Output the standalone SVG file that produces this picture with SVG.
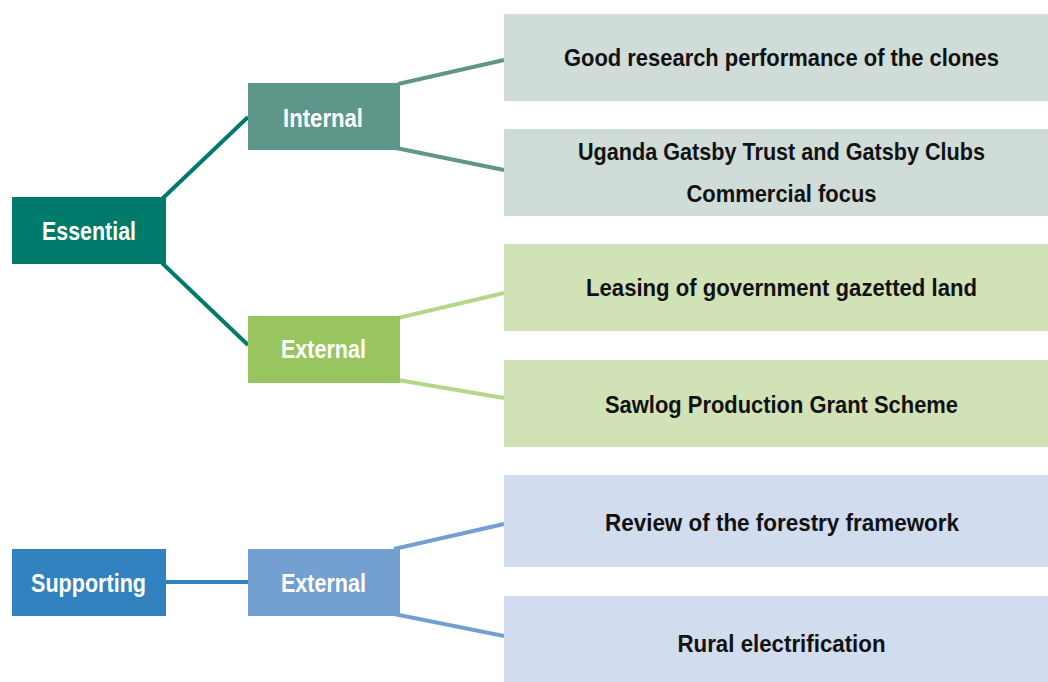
<svg xmlns="http://www.w3.org/2000/svg" width="1048" height="682" viewBox="0 0 1048 682">
<style>
text{font-family:"Liberation Sans",Arial,sans-serif;font-weight:bold;font-size:25px;text-anchor:middle}
.w{fill:#ffffff}
.k{fill:#111111;font-size:24px}
.c{fill:none;stroke-width:4}
</style>
<rect width="1048" height="682" fill="#ffffff"/>
<g id="connectors">
<line class="c" x1="162" y1="199" x2="248" y2="117" stroke="#007A6A"/>
<line class="c" x1="162" y1="263" x2="248" y2="345" stroke="#007A6A"/>
<line class="c" x1="398" y1="84" x2="504" y2="60" stroke="#5E9789"/>
<line class="c" x1="396" y1="148" x2="504" y2="170" stroke="#5E9789"/>
<line class="c" x1="398" y1="318" x2="504" y2="293" stroke="#B5D68D"/>
<line class="c" x1="398" y1="380" x2="504" y2="398" stroke="#B5D68D"/>
<line class="c" x1="166" y1="582" x2="248" y2="582" stroke="#3282C0"/>
<line class="c" x1="394" y1="549" x2="504" y2="524" stroke="#73A0D0"/>
<line class="c" x1="394" y1="614" x2="504" y2="636" stroke="#73A0D0"/>
</g>
<g id="essential">
<rect x="12" y="197" width="154" height="67" fill="#007A6A"/>
<text class="w" x="89" y="240" textLength="94" lengthAdjust="spacingAndGlyphs">Essential</text>
</g>
<g id="internal">
<rect x="248" y="83" width="152" height="67" fill="#5E9789"/>
<text class="w" x="323" y="126.5" textLength="80" lengthAdjust="spacingAndGlyphs">Internal</text>
</g>
<g id="external-green">
<rect x="248" y="316" width="152" height="67" fill="#99C560"/>
<text class="w" x="323.5" y="358" textLength="85" lengthAdjust="spacingAndGlyphs">External</text>
</g>
<g id="supporting">
<rect x="12" y="549" width="154" height="67" fill="#3282C0"/>
<text class="w" x="88.5" y="591.5" textLength="115" lengthAdjust="spacingAndGlyphs">Supporting</text>
</g>
<g id="external-blue">
<rect x="248" y="549" width="152" height="67" fill="#73A0D0"/>
<text class="w" x="323.5" y="591.5" textLength="85" lengthAdjust="spacingAndGlyphs">External</text>
</g>
<g id="box1">
<rect x="504" y="14" width="544" height="87" fill="#CFDCD7"/>
<text class="k" x="781.5" y="66" textLength="435" lengthAdjust="spacingAndGlyphs">Good research performance of the clones</text>
</g>
<g id="box2">
<rect x="504" y="129" width="544" height="87" fill="#CFDCD7"/>
<text class="k" x="781.5" y="160" textLength="407" lengthAdjust="spacingAndGlyphs">Uganda Gatsby Trust and Gatsby Clubs</text>
<text class="k" x="781.5" y="201.5" textLength="190" lengthAdjust="spacingAndGlyphs">Commercial focus</text>
</g>
<g id="box3">
<rect x="504" y="244" width="544" height="87" fill="#D1E3B6"/>
<text class="k" x="781.5" y="296" textLength="391" lengthAdjust="spacingAndGlyphs">Leasing of government gazetted land</text>
</g>
<g id="box4">
<rect x="504" y="360" width="544" height="87" fill="#D1E3B6"/>
<text class="k" x="781.5" y="412.5" textLength="353" lengthAdjust="spacingAndGlyphs">Sawlog Production Grant Scheme</text>
</g>
<g id="box5">
<rect x="504" y="475" width="544" height="92" fill="#D1DCEF"/>
<text class="k" x="782" y="530.5" textLength="354" lengthAdjust="spacingAndGlyphs">Review of the forestry framework</text>
</g>
<g id="box6">
<rect x="504" y="596" width="544" height="86" fill="#D1DCEF"/>
<text class="k" x="781.5" y="651.5" textLength="208" lengthAdjust="spacingAndGlyphs">Rural electrification</text>
</g>
</svg>
